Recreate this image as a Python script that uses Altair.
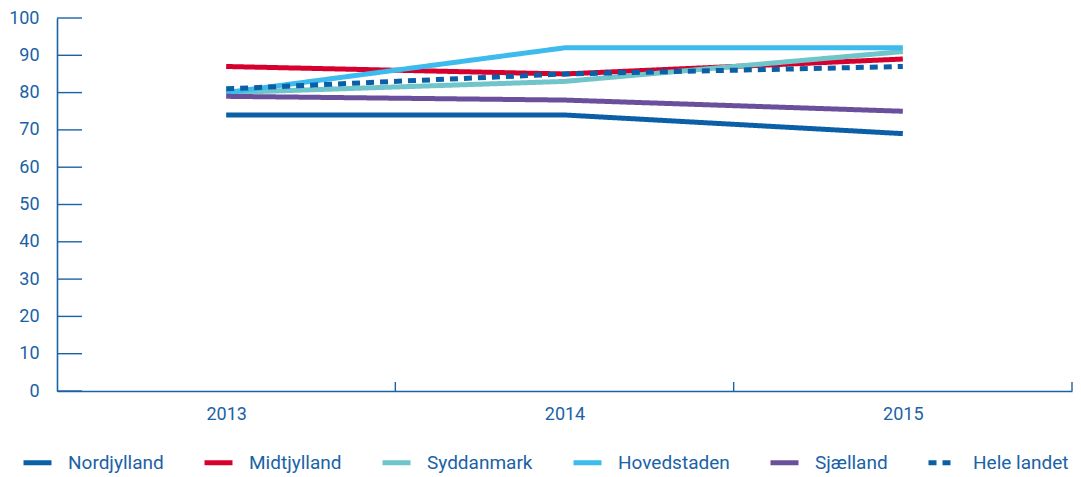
import altair as alt
import pandas as pd

years = [2013, 2014, 2015]
series = ["Nordjylland", "Midtjylland", "Syddanmark", "Hovedstaden", "Sjælland", "Hele landet"]
nordjylland = [74, 74, 69]
midtjylland = [87, 85, 89]
syddanmark = [80, 83, 91]
hovedstaden = [80, 92, 92]
sjaelland = [79, 78, 75]
hele_landet = [81, 85, 87]
colors = ["#0a5fa6", "#d6002e", "#6fc5c9", "#3dbbec", "#6a4f9c", "#0a5fa6"]
dashes = [[1, 0], [1, 0], [1, 0], [1, 0], [1, 0], [8, 6]]
y_ticks = [0, 10, 20, 30, 40, 50, 60, 70, 80, 90, 100]
x_boundaries = [2013.5, 2014.5, 2015.5]

values = [nordjylland, midtjylland, syddanmark, hovedstaden, sjaelland, hele_landet]
rows = []
for s, vals in zip(series, values):
    for yr, v in zip(years, vals):
        rows.append({"year": yr, "value": v, "region": s, "order": series.index(s)})
df = pd.DataFrame(rows)

BLUE = "#1a62a6"
FONT = "Roboto"
W, H = 1015, 373

xscale = alt.Scale(domain=[2012.5, 2015.5], nice=False, zero=False)
yscale = alt.Scale(domain=[0, 100], nice=False)

xaxis = alt.Axis(values=years, format="d", ticks=False, grid=False, title=None,
                 labelPadding=14, domainColor=BLUE, domainWidth=1.6)
yaxis = alt.Axis(values=y_ticks, ticks=False, grid=False, title=None,
                 labelPadding=18, labelOverlap=False, domainColor=BLUE,
                 domainWidth=1.6)

legend = alt.Legend(title=None, orient="none", legendX=-36, legendY=428,
                    direction="horizontal", columns=6, symbolType="stroke",
                    symbolStrokeWidth=5, symbolSize=784, labelOffset=14,
                    columnPadding=30, labelFontSize=19, labelColor=BLUE,
                    labelFont=FONT)

lines = alt.Chart(df).mark_line(strokeWidth=5, strokeCap="butt").encode(
    x=alt.X("year:Q", scale=xscale, axis=xaxis),
    y=alt.Y("value:Q", scale=yscale, axis=yaxis),
    color=alt.Color("region:N", scale=alt.Scale(domain=series, range=colors),
                    legend=legend),
    strokeDash=alt.StrokeDash("region:N", scale=alt.Scale(domain=series, range=dashes),
                              legend=legend),
    detail="region:N",
    order="order:Q",
)

ytick_df = pd.DataFrame({"v": y_ticks})
yticks = alt.Chart(ytick_df).mark_rule(color=BLUE, strokeWidth=1.4).encode(
    y=alt.Y("v:Q", scale=yscale, axis=yaxis),
    x=alt.value(0),
    x2=alt.value(25),
)

xtick_df = pd.DataFrame({"b": x_boundaries})
xticks = alt.Chart(xtick_df).mark_rule(color=BLUE, strokeWidth=1.4).encode(
    x=alt.X("b:Q", scale=xscale, axis=xaxis),
    y=alt.value(H),
    y2=alt.value(H - 9),
)

chart = alt.layer(lines, yticks, xticks).properties(
    width=W, height=H, padding={"top": 1, "left": 0, "right": 0, "bottom": 0}
).configure_view(stroke=None).configure_axis(
    labelFont=FONT, labelFontSize=18, labelColor=BLUE
)

chart.save("out.html", embed_options={"renderer": "svg", "actions": False})
